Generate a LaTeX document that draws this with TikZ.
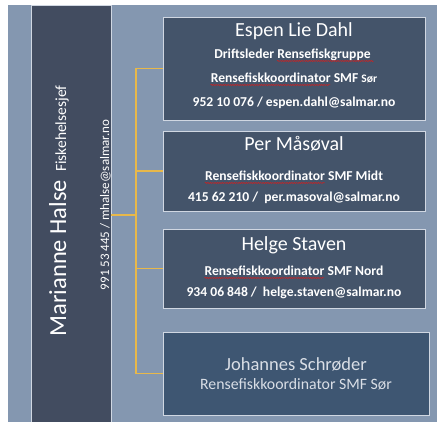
\documentclass[tikz,border=0pt]{standalone}
\usepackage{fontspec}
\setmainfont{Carlito}
\usetikzlibrary{decorations.pathmorphing}
\definecolor{bgblue}{HTML}{8497B0}
\definecolor{panel}{HTML}{424C60}
\definecolor{boxfill}{HTML}{44546A}
\definecolor{lastfill}{HTML}{3E5672}
\definecolor{gold}{HTML}{E8B84A}
\definecolor{boxline}{HTML}{D0D7E2}
\definecolor{lasttext}{HTML}{D9DEE6}
\definecolor{wavered}{HTML}{D02020}
\newsavebox\wavebox
\newlength\wavewd
\newcommand\redwave[1]{\sbox\wavebox{#1}\setlength\wavewd{\wd\wavebox}\usebox\wavebox\llap{\tikz[baseline=0pt]{\draw[wavered,line width=0.5pt,decorate,decoration={snake,amplitude=0.6pt,segment length=2.4pt}] (0pt,-2.6pt) -- (\wavewd,-2.6pt);}}}
\newcommand\smallsor{{\fontsize{11.5}{13}\selectfont Sør}}
\tikzset{
  card/.style={draw=boxline, line width=0.8pt, fill=boxfill, inner sep=0pt, minimum width=262pt},
  lastcard/.style={card, fill=lastfill, minimum width=266pt},
  conn/.style={draw=gold, line width=1.2pt},
  title/.style={text=white, anchor=mid, inner sep=0pt, font=\fontsize{20}{22}\selectfont},
  info/.style={text=white, anchor=mid, inner sep=0pt, font=\bfseries\fontsize{13.6}{15}\selectfont},
  lasttitle/.style={text=lasttext, anchor=mid, inner sep=0pt, font=\fontsize{18.5}{20}\selectfont},
  lastinfo/.style={text=lasttext, anchor=mid, inner sep=0pt, font=\fontsize{15.8}{17}\selectfont},
}
\begin{document}
\begin{tikzpicture}[x=1pt,y=-1pt]
\useasboundingbox (0,0) rectangle (439,422);
\fill[white] (0,0) rectangle (439,422);
\fill[bgblue] (8,5) rectangle (437,422);
% left panel
\node[draw=boxline, line width=0.8pt, fill=panel, inner sep=0pt, minimum width=80pt, minimum height=418pt] (boss) at (71,214) {};
\node[rotate=90, anchor=base, text=white, inner sep=0pt] (bossname) at (66,211)
  {{\fontsize{24.5}{26}\selectfont Marianne Halse}\hspace{8pt}{\fontsize{15.5}{17}\selectfont Fiskehelsesjef}};
\node[rotate=90, anchor=base, text=white, inner sep=0pt, font=\fontsize{13}{15}\selectfont] (bossinfo) at (109,205)
  {991 53 445 / mhalse@salmar.no};
% cards
\node[card, minimum height=103pt] (b1) at (294,68.5) {};
\node[card, minimum height=80pt] (b2) at (294,171) {};
\node[card, minimum height=79pt] (b3) at (294,268.5) {};
\node[lastcard, minimum height=83pt] (b4) at (296,373.5) {};
% connectors
\coordinate (trunk) at (136,215);
\draw[conn] (boss.east |- trunk) -- (trunk);
\draw[conn] (b1.west) -| (trunk);
\draw[conn] (b4.west) -| (trunk);
\draw[conn] (b2.west) -- (b2.west -| trunk);
\draw[conn] (b3.west) -- (b3.west -| trunk);
% card 1
\node[title] (t1) at (294,34) {Espen Lie Dahl};
\node[info] (t1a) at (294,56) {Driftsleder \redwave{Rensefiskgruppe\ }};
\node[info] (t1b) at (294,80) {\redwave{Rensefiskkoordinator} SMF \smallsor};
\node[info] (t1c) at (294,104) {952 10 076 / espen.dahl@salmar.no};
% card 2
\node[title] (t2) at (294,148) {Per Måsøval};
\node[info] (t2a) at (294,178) {\redwave{Rensefiskkoordinator} SMF Midt};
\node[info] (t2b) at (294,199.5) {415 62 210 /\ \ per.masoval@salmar.no};
% card 3
\node[title] (t3) at (294,248.5) {Helge Staven};
\node[info] (t3a) at (294,273) {\redwave{Rensefiskkoordinator} SMF Nord};
\node[info] (t3b) at (294,294) {934 06 848 /\ \ helge.staven@salmar.no};
% card 4
\node[lasttitle] (t4) at (296,368) {Johannes Schrøder};
\node[lastinfo] (t4a) at (296,387) {Rensefiskkoordinator SMF Sør};
\end{tikzpicture}
\end{document}
